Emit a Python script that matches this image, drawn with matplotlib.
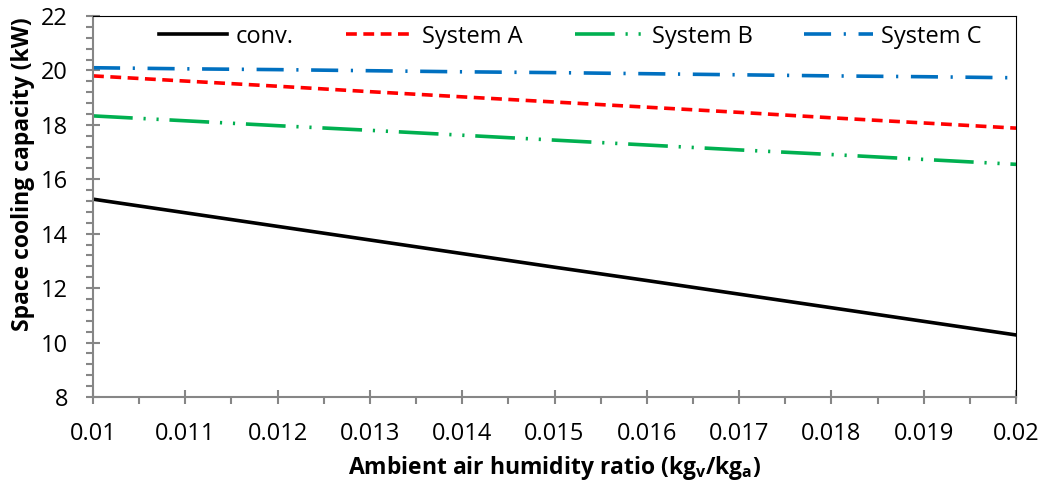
import matplotlib.pyplot as plt
from matplotlib.ticker import MultipleLocator

plt.rcParams['font.family'] = ['Open Sans', 'DejaVu Sans']

humidity = [0.010, 0.011, 0.012, 0.013, 0.014, 0.015, 0.016, 0.017, 0.018, 0.019, 0.020]
conv = [15.27, 14.77, 14.27, 13.77, 13.27, 12.77, 12.28, 11.78, 11.28, 10.78, 10.28]
system_a = [19.80, 19.61, 19.42, 19.22, 19.03, 18.84, 18.65, 18.46, 18.26, 18.07, 17.88]
system_b = [18.33, 18.15, 17.97, 17.80, 17.62, 17.44, 17.26, 17.08, 16.91, 16.73, 16.55]
system_c = [20.10, 20.06, 20.03, 19.99, 19.95, 19.92, 19.88, 19.84, 19.80, 19.77, 19.73]

fig = plt.figure(figsize=(10.44, 4.87), dpi=100)
ax = fig.add_axes([0.0891, 0.1848, 0.8841, 0.7823])

ax.plot(humidity, conv, color='black', lw=2.6, label='conv.')
ax.plot(humidity, system_a, color='#FF0000', lw=2.6, ls=(0, (3, 1.8)), label='System A')
ax.plot(humidity, system_b, color='#00B050', lw=2.6, ls=(0, (11, 3, 0.6, 3, 0.6, 3)), label='System B')
ax.plot(humidity, system_c, color='#0070C0', lw=2.6, ls=(0, (7.5, 3.5, 0.6, 3.5)), label='System C')

ax.set_xlim(0.01, 0.02)
ax.set_ylim(8, 22)
ax.xaxis.set_minor_locator(MultipleLocator(0.0005))
ax.yaxis.set_major_locator(MultipleLocator(2))
ax.yaxis.set_minor_locator(MultipleLocator(0.4))
ax.set_xticks(humidity)
ax.set_xticklabels(['0.01', '0.011', '0.012', '0.013', '0.014', '0.015',
                    '0.016', '0.017', '0.018', '0.019', '0.02'])

gray = '#868686'
for s in ['left', 'bottom']:
    ax.spines[s].set_color(gray)
    ax.spines[s].set_linewidth(1.5)
for s in ['top', 'right']:
    ax.spines[s].set_color('black')
    ax.spines[s].set_linewidth(0.8)
ax.tick_params(which='major', direction='inout', length=10, width=1.5, color=gray,
               labelsize=17)
ax.tick_params(axis='x', which='major', pad=13)
ax.tick_params(axis='y', which='major', pad=13)
ax.tick_params(which='minor', direction='out', length=5, width=1.5, color=gray)

ax.set_xlabel('Ambient air humidity ratio (kg$_\\mathregular{v}$/kg$_\\mathregular{a}$)',
              fontsize=16.5, fontweight='bold')
ax.set_ylabel('Space cooling capacity (kW)', fontsize=16.5, fontweight='bold')
ax.xaxis.set_label_coords(0.5, -0.15)
ax.yaxis.set_label_coords(-0.063, 0.585)

ax.legend(loc='upper center', bbox_to_anchor=(0.517, 1.033), ncol=4, frameon=False,
          fontsize=17, handlelength=2.9, columnspacing=2.2, handletextpad=0.35)

fig.savefig('out.png', dpi=100)
